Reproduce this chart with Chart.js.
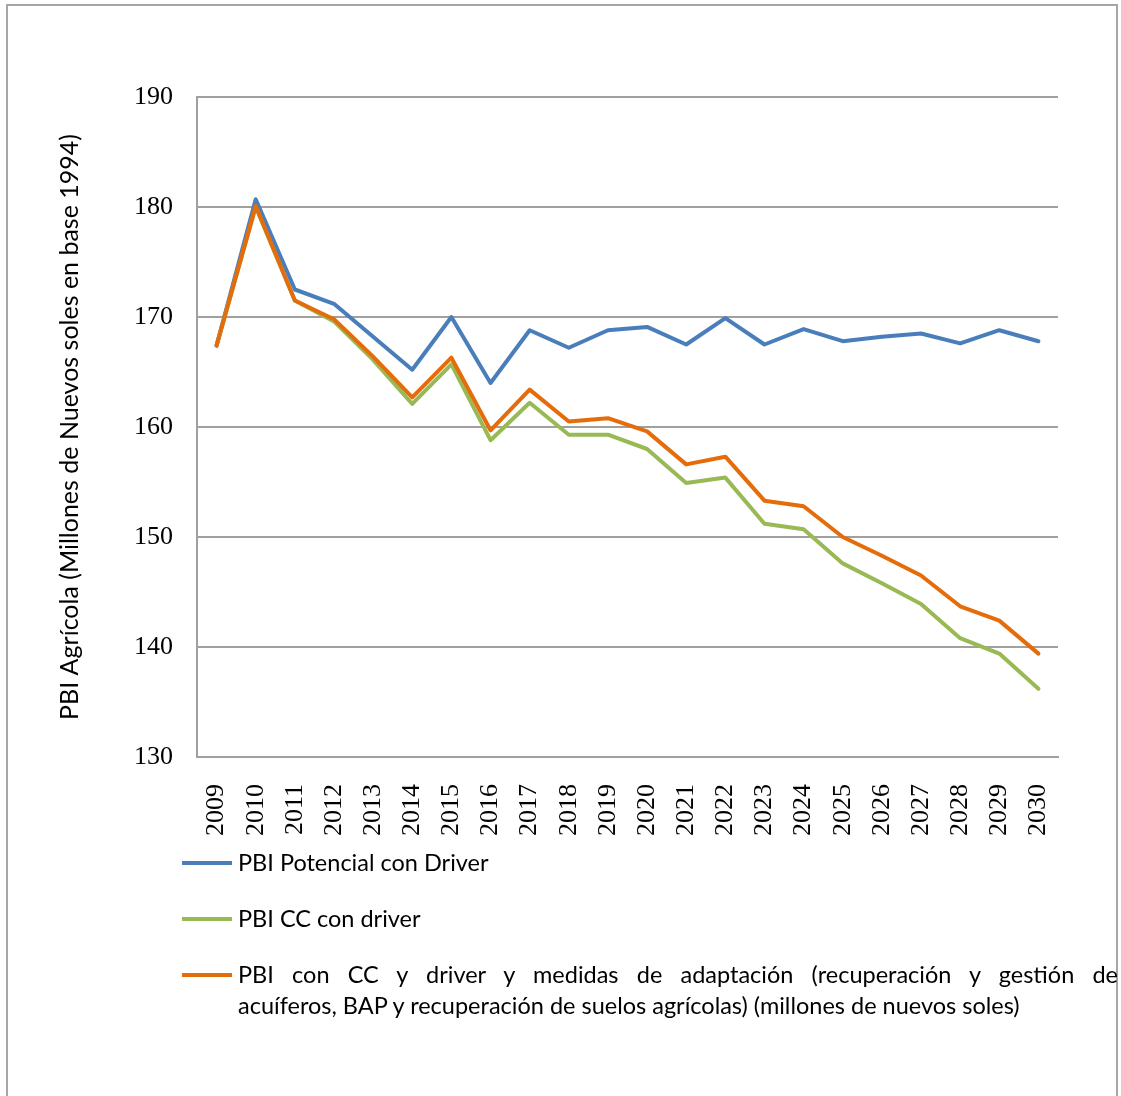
<!DOCTYPE html>
<html>
<head>
<meta charset="utf-8">
<script src="https://cdn.jsdelivr.net/npm/chart.js@4/dist/chart.umd.min.js"></script>
<style>
  html, body { margin: 0; padding: 0; background: #fff; }
  #wrap { position: relative; width: 1121px; height: 1096px; overflow: hidden; }
  #frame { position: absolute; left: 6px; top: 4px; width: 1112px; height: 1200px; border: 2px solid #a6a6a6; box-sizing: border-box; }
  #c { position: absolute; left: 0; top: 0; }
  .lg { position: absolute; left: 182px; font-family: Lato, "Liberation Sans Narrow", sans-serif; font-size: 23.5px; color: #000; line-height: 31px; }
  .lg .sw { position: absolute; left: 0; width: 50px; height: 4px; top: 14px; }
  .lg .tx { position: absolute; left: 56px; top: 0; white-space: nowrap; }
  .lg .j { text-align: justify; text-align-last: justify; width: 880px; white-space: normal; }
</style>
</head>
<body>
<div id="wrap">
  <div id="frame"></div>
  <canvas id="c" width="1121" height="1096"></canvas>
  <div id="legend"></div>
</div>
<script>
const years = ["2009","2010","2011","2012","2013","2014","2015","2016","2017","2018","2019","2020","2021","2022","2023","2024","2025","2026","2027","2028","2029","2030"];
const potencialDriver = [167.4,180.7,172.5,171.2,168.2,165.2,170.0,164.0,168.8,167.2,168.8,169.1,167.5,169.9,167.5,168.9,167.8,168.2,168.5,167.6,168.8,167.8];
const ccDriver = [167.4,180.0,171.5,169.6,166.1,162.1,165.7,158.8,162.2,159.3,159.3,158.0,154.9,155.4,151.2,150.7,147.6,145.8,143.9,140.8,139.4,136.2];
const ccAdaptacion = [167.4,180.1,171.5,169.8,166.4,162.7,166.3,159.7,163.4,160.5,160.8,159.6,156.6,157.3,153.3,152.8,150.0,148.3,146.5,143.7,142.4,139.4];
const seriesLabels = [
  "PBI Potencial con Driver",
  "PBI CC con driver",
  "PBI con CC y driver y medidas de adaptación (recuperación y gestión de acuíferos, BAP y recuperación de suelos agrícolas) (millones de nuevos soles)"
];
const seriesColors = ["#4a7ebb", "#98b954", "#e46c0a"];
const yTitle = "PBI Agrícola (Millones de Nuevos soles en base 1994)";
const legendBreakWords = [0, 0, 13]; // words on first (justified) legend line

const chart = new Chart(document.getElementById('c'), {
  type: 'line',
  data: {
    labels: years,
    datasets: [
      { label: seriesLabels[0], data: potencialDriver, borderColor: seriesColors[0], order: 2 },
      { label: seriesLabels[1], data: ccDriver, borderColor: seriesColors[1], order: 1 },
      { label: seriesLabels[2], data: ccAdaptacion, borderColor: seriesColors[2], order: 0 }
    ]
  },
  options: {
    responsive: false,
    animation: false,
    events: [],
    layout: { padding: { left: 0, top: 97, right: 63, bottom: 239 } },
    elements: {
      line: { borderWidth: 4, tension: 0, fill: false, borderCapStyle: 'round', borderJoinStyle: 'round' },
      point: { radius: 0 }
    },
    plugins: { legend: { display: false }, tooltip: { enabled: false } },
    scales: {
      x: {
        offset: true,
        grid: { display: false },
        border: { display: true, color: '#a0a0a0', width: 2 },
        ticks: { minRotation: 90, maxRotation: 90, autoSkip: false, padding: 19, color: '#000',
                 font: { family: '"Liberation Serif", serif', size: 26 } },
        afterFit: s => { s.height = 100; }
      },
      y: {
        min: 130, max: 190,
        ticks: { stepSize: 10, padding: 24, color: '#000',
                 font: { family: '"Liberation Serif", serif', size: 26 } },
        grid: { color: '#a0a0a0', lineWidth: 2, drawTicks: false },
        border: { display: true, color: '#a0a0a0', width: 2 },
        title: { display: true, text: yTitle, color: '#000', padding: { top: 55, bottom: 0 },
                 font: { family: 'Lato, "Liberation Sans Narrow", sans-serif', size: 25 } },
        afterFit: s => { s.width = 197; }
      }
    }
  }
});

// HTML legend built from dataset labels/colors
const legendTops = [847, 903, 959];
const lg = document.getElementById('legend');
chart.data.datasets.forEach((ds, i) => {
  const d = document.createElement('div');
  d.className = 'lg';
  d.style.top = legendTops[i] + 'px';
  const sw = document.createElement('span');
  sw.className = 'sw';
  sw.style.background = ds.borderColor;
  const tx = document.createElement('div');
  tx.className = 'tx';
  const n = legendBreakWords[i];
  if (n > 0) {
    const words = ds.label.split(' ');
    const l1 = document.createElement('div');
    l1.className = 'j';
    l1.textContent = words.slice(0, n).join(' ');
    const l2 = document.createElement('div');
    l2.textContent = words.slice(n).join(' ');
    tx.appendChild(l1);
    tx.appendChild(l2);
  } else {
    tx.textContent = ds.label;
  }
  d.appendChild(sw);
  d.appendChild(tx);
  lg.appendChild(d);
});
</script>
</body>
</html>
